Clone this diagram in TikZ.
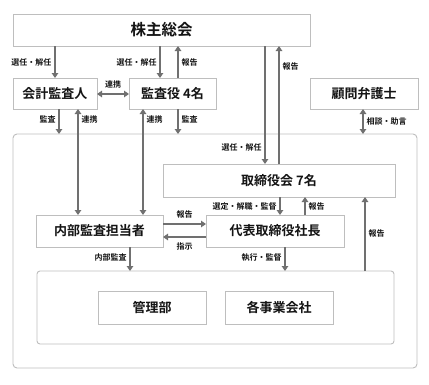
\documentclass[tikz,border=0pt]{standalone}
\usepackage{fontspec}
\setmainfont{Noto Sans CJK JP Bold}
\usepackage{tikz}
\usetikzlibrary{arrows.meta, positioning, calc}
\definecolor{myline}{RGB}{112,112,112}
\definecolor{myframe}{RGB}{190,190,190}
\definecolor{mytext}{RGB}{20,20,20}
\tikzset{
  box/.style={rectangle, draw=myframe, fill=white, line width=0.9pt,
    inner sep=0pt, outer sep=0pt, font=\fontsize{13}{13}\selectfont, text=mytext},
  group/.style={draw=myframe, line width=0.9pt, rounded corners=4pt},
  arrow/.style={-{Triangle[width=6.5pt,length=5pt]}, line width=2pt, color=myline},
  dblarrow/.style={{Triangle[width=6.5pt,length=5pt]}-{Triangle[width=6.5pt,length=5pt]}, line width=2pt, color=myline},
  lbl/.style={font=\fontsize{8}{8}\selectfont, text=mytext, inner sep=2.5pt}
}
\begin{document}
\begin{tikzpicture}[x=1pt, y=-1pt]
  \useasboundingbox[fill=white] (0,0) rectangle (429,384);

  % outer frames
  \draw[group] (13,134) rectangle (417,368);
  \coordinate (companytop) at (215,134);
  \draw[group, rounded corners=3pt] (37,271) rectangle (394,344);
  \coordinate (unittop) at (215,271);

  % boxes
  \node[box, minimum width=297pt, minimum height=32pt, font=\fontsize{15.5}{15.5}\selectfont] (kabunushi) at (161.5,30) {株主総会};
  \node[box, minimum width=84pt, minimum height=31pt] (kaikei) at (55,93.5) {会計監査人};
  \node[box, minimum width=87pt, minimum height=31pt] (kansayaku) at (172.5,93.5) {監査役 4名};
  \node[box, minimum width=108pt, minimum height=31pt] (komon) at (364,93.5) {顧問弁護士};
  \node[box, minimum width=232pt, minimum height=33pt] (torishimari) at (279,180.5) {取締役会 7名};
  \node[box, minimum width=127pt, minimum height=32pt] (naibu) at (99.5,231) {内部監査担当者};
  \node[box, minimum width=138pt, minimum height=32pt] (daihyo) at (275,231) {代表取締役社長};
  \node[box, minimum width=108pt, minimum height=33pt] (kanri) at (152,307.5) {管理部};
  \node[box, minimum width=108pt, minimum height=33pt] (jigyo) at (279,307.5) {各事業会社};

  % shareholders
  \draw[arrow] (kabunushi.south -| kaikei) -- node[lbl, left] {選任・解任} (kaikei.north);
  \draw[arrow] (kabunushi.south -| 160,0) -- node[lbl, left] {選任・解任} (kansayaku.north -| 160,0);
  \draw[arrow] (kansayaku.north -| 178,0) -- node[lbl, right] {報告} (kabunushi.south -| 178,0);
  \draw[arrow] (kabunushi.south -| 265,0) -- node[lbl, left, pos=0.86] {選任・解任} (torishimari.north -| 265,0);
  \draw[arrow] (torishimari.north -| 279,0) -- node[lbl, right, pos=0.83] {報告} (kabunushi.south -| 279,0);

  % auditors
  \draw[dblarrow] (kaikei.east |- 0,94) -- node[lbl, above=2pt] {連携} (kansayaku.west |- 0,94);
  \draw[arrow] (kaikei.south -| 59,0) -- node[lbl, left, pos=0.4] {監査} (companytop -| 59,0);
  \draw[dblarrow] (kaikei.south -| 78,0) -- node[lbl, right, pos=0.1] {連携} (naibu.north -| 78,0);
  \draw[dblarrow] (kansayaku.south -| 143,0) -- node[lbl, right, pos=0.1] {連携} (naibu.north -| 143,0);
  \draw[arrow] (kansayaku.south -| 178,0) -- node[lbl, right, pos=0.4] {監査} (companytop -| 178,0);
  \draw[dblarrow] (komon.south -| 363,0) -- node[lbl, right] {相談・助言} (companytop -| 363,0);

  % board and president
  \draw[arrow] (torishimari.south -| 280,0) -- node[lbl, left] {選定・解職・監督} (daihyo.north -| 280,0);
  \draw[arrow] (daihyo.north -| 305,0) -- node[lbl, right] {報告} (torishimari.south -| 305,0);
  \draw[arrow] (naibu.east |- 0,224) -- node[lbl, above=2pt] {報告} (daihyo.west |- 0,224);
  \draw[arrow] (daihyo.west |- 0,237) -- node[lbl, below=2pt] {指示} (naibu.east |- 0,237);

  % business units
  \draw[arrow] (naibu.south -| 130,0) -- node[lbl, left, pos=0.45] {内部監査} (unittop -| 130,0);
  \draw[arrow] (daihyo.south -| 285,0) -- node[lbl, left, pos=0.45] {執行・監督} (unittop -| 285,0);
  \draw[arrow] (unittop -| 365,0) -- node[lbl, right, pos=0.51] {報告} (torishimari.south -| 365,0);
\end{tikzpicture}
\end{document}
